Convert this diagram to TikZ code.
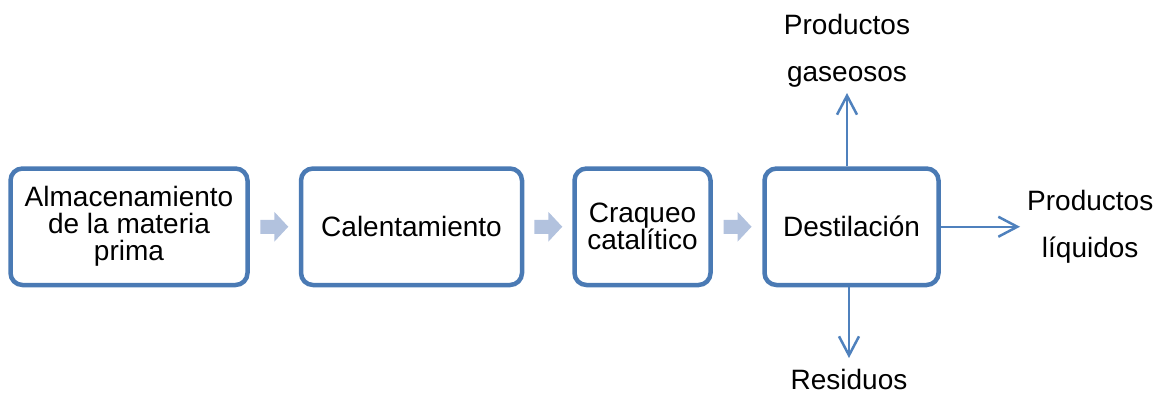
\documentclass[tikz,border=0pt]{standalone}
\usepackage{fontspec}
\setmainfont{Liberation Sans}
\usetikzlibrary{positioning,calc,arrows.meta}

\definecolor{cajaazul}{RGB}{74,122,180}
\definecolor{lineaazul}{RGB}{79,129,189}
\definecolor{flechaclara}{RGB}{178,194,222}

\tikzset{
  procbox/.style={draw=cajaazul, line width=4.5pt, rounded corners=12pt, fill=white,
    inner sep=0pt, minimum height=116.5pt, align=center,
    font=\fontsize{28}{27}\selectfont},
  salida/.style={draw=lineaazul, line width=2.5pt,
    -{Straight Barb[length=19pt,width=20pt,line width=2.5pt]}},
  outlabel/.style={inner sep=0pt, align=center, font=\fontsize{28}{47}\selectfont},
  flechagruesa/.pic={\fill[flechaclara] (-14,-7) -- (0,-7) -- (0,-15) -- (14,0) -- (0,15) -- (0,7) -- (-14,7) -- cycle;}
}

\begin{document}
\begin{tikzpicture}[x=1pt,y=1pt]
\useasboundingbox (0,0) rectangle (1158,392);

\node[procbox, minimum width=237pt] (almacen) at (129,165.25) {Almacenamiento\\de la materia\\prima};
\node[procbox, minimum width=221pt] (calent) at (411.5,165.25) {Calentamiento};
\node[procbox, minimum width=136pt] (craqueo) at (642.5,165.25) {Craqueo\\catalítico};
\node[procbox, minimum width=174pt] (destil) at (851.5,165.25) {Destilación};

\pic at ($(almacen.east)!0.5!(calent.west)$) {flechagruesa};
\pic at ($(calent.east)!0.5!(craqueo.west)$) {flechagruesa};
\pic at ($(craqueo.east)!0.5!(destil.west)$) {flechagruesa};

\coordinate (gas) at (847,299);
\coordinate (liq) at (1020,165.25);
\coordinate (res) at (849,34);

\draw[salida] (destil.north -| gas) -- (gas);
\draw[salida] (destil.east) -- (liq);
\draw[salida] (destil.south -| res) -- (res);

\node[outlabel, above=5pt of gas] (gaslabel) {Productos\\gaseosos};
\node[outlabel, right=7pt of liq] (liqlabel) {Productos\\líquidos};
\node[outlabel, below=11pt of res] (reslabel) {Residuos};

\end{tikzpicture}
\end{document}
